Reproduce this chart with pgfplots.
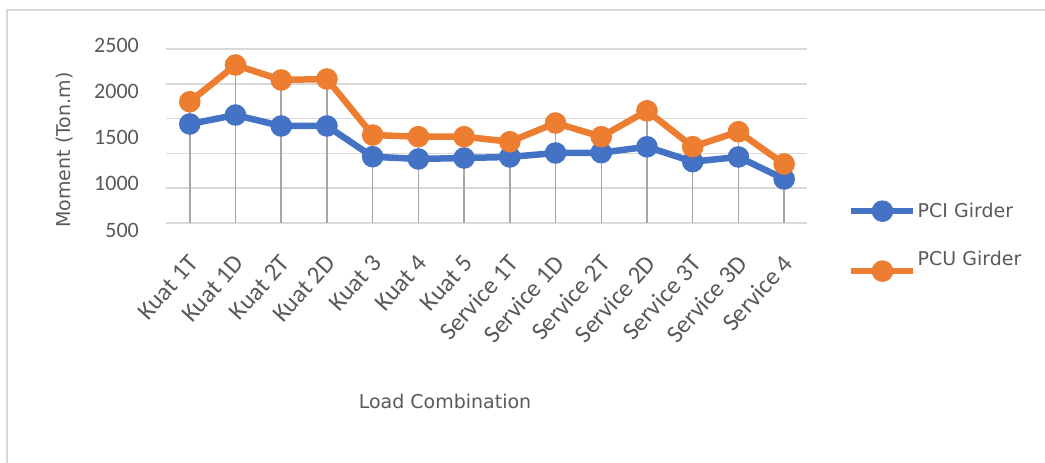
\documentclass[border=0pt]{standalone}
\usepackage{fontspec}
\usepackage{pgfplots}
\pgfplotsset{compat=1.18}
\usepackage{pgfplotstable}
\setmainfont{DejaVu Sans}
\newfontfamily\carl{Carlito}
\definecolor{pciblue}{HTML}{4472C4}
\definecolor{pcuorange}{HTML}{ED7D31}
\definecolor{txtgray}{HTML}{595959}
\definecolor{gridgray}{HTML}{D9D9D9}
\definecolor{dropgray}{HTML}{A6A6A6}

\pgfplotstableread{
cat pci pcu
0 1638 1894
1 1741 2316
2 1615 2144
3 1615 2155
4 1262 1511
5 1236 1492
6 1247 1492
7 1259 1434
8 1305 1649
9 1308 1492
10 1376 1790
11 1205 1377
12 1259 1549
13 1006 1178
}\datatable

\begin{document}
\begin{tikzpicture}[x=1pt,y=1pt]
\path[use as bounding box] (0,0) rectangle (1045,463);
\draw[gridgray, line width=1.2pt] (7,0) -- (7,453) -- (1045,453);

% helper axis carrying the y tick labels
\begin{axis}[
  at={(166pt,233pt)}, anchor=south west,
  scale only axis, width=641pt, height=184.5pt,
  xmin=0, xmax=1, ymin=500, ymax=2500,
  xtick=\empty, ytick={500,1000,1500,2000,2500},
  axis line style={draw=none}, major tick length=0pt,
  /pgf/number format/1000 sep={},
  /pgf/number format/assume math mode=true,
  yticklabel style={font=\carl\fontsize{22}{26}\selectfont, text=txtgray, anchor=east, inner sep=0pt, xshift=-27pt},
]
\end{axis}

\begin{axis}[
  at={(166pt,240pt)}, anchor=south west,
  scale only axis, width=641pt, height=174pt,
  xmin=-0.52, xmax=13.5, ymin=500, ymax=2500,
  ytick={500,900,1300,1700,2100,2500}, yticklabels={},
  ymajorgrids, grid style={gridgray, line width=1.5pt},
  axis line style={draw=none}, major tick length=0pt,
  xtick={0,...,13},
  xticklabels={Kuat 1T,Kuat 1D,Kuat 2T,Kuat 2D,Kuat 3,Kuat 4,Kuat 5,Service 1T,Service 1D,Service 2T,Service 2D,Service 3T,Service 3D,Service 4},
  xticklabel style={font=\carl\fontsize{25}{29}\selectfont, text=txtgray, xshift=4pt, yshift=-36pt, rotate=48, anchor=east, inner sep=0pt},
  xlabel={Load Combination},
  ylabel={Moment (Ton.m)},
  label style={font=\fontsize{19}{22}\selectfont, text=txtgray},
  xlabel style={at={(rel axis cs:0.4353,-1.023)}, anchor=center},
  ylabel style={at={(rel axis cs:-0.1583,0.4195)}, anchor=center},
  legend style={draw=none, fill=none, at={(rel axis cs:1.064,0.1207)}, anchor=north west,
    inner sep=0pt, row sep=30pt, font=\fontsize{19}{22}\selectfont, text=txtgray,
    nodes={inner sep=1pt}},
  legend cell align=left,
  legend image code/.code={\draw[#1, mark repeat=2, mark phase=2] plot coordinates {(0pt,0pt) (31pt,0pt) (62pt,0pt)};},
]
\addplot[dropgray, line width=1.5pt, ycomb, forget plot] table[x=cat, y=pcu] {\datatable};
\addplot[pciblue, line width=6.5pt, mark=*, mark size=7.5pt, mark options={draw=none, fill=pciblue}] table[x=cat, y=pci] {\datatable};
\addlegendentry{PCI Girder}
\addplot[pcuorange, line width=6.5pt, mark=*, mark size=7.5pt, mark options={draw=none, fill=pcuorange}] table[x=cat, y=pcu] {\datatable};
\addlegendentry{\raisebox{24pt}{PCU Girder}}
\end{axis}
\end{tikzpicture}
\end{document}
